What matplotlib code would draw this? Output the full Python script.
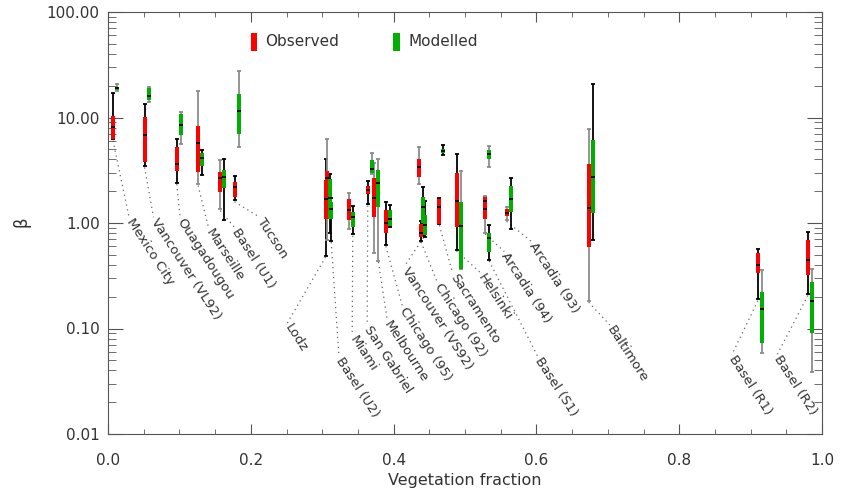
import matplotlib
matplotlib.use('Agg')
import matplotlib.pyplot as plt
from matplotlib.ticker import FixedLocator, FixedFormatter, MultipleLocator
from matplotlib.patches import Rectangle

# ---------------- data ----------------
sites = ["Mexico City", "Vancouver (VL92)", "Ouagadougou", "Marseille", "Basel (U1)",
         "Tucson", "Lodz", "Basel (U2)", "Miami", "San Gabriel", "Melbourne",
         "Chicago (95)", "Vancouver (VS92)", "Chicago (92)", "Sacramento", "Helsinki",
         "Basel (S1)", "Arcadia (94)", "Arcadia (93)", "Baltimore", "Basel (R1)", "Basel (R2)"]
veg_frac = [0.0098, 0.054, 0.099, 0.129, 0.160, 0.180, 0.3075, 0.3098, 0.340, 0.3666,
            0.376, 0.392, 0.439, 0.4414, 0.467, 0.491, 0.531, 0.531, 0.561, 0.676, 0.913, 0.983]

obs_lo  = [6.2, 3.47, 2.41, 2.33, 1.35, 1.64, 0.49, 0.69, 0.877, 1.51, 0.516, 0.62, 2.33, 0.68, 0.98, 0.56, 1.25, 0.81, 1.07, 0.183, 0.189, 0.212]
obs_q1  = [6.26, 3.81, 3.13, 3.06, 1.98, 1.78, 1.10, 1.60, 1.07, 1.88, 1.13, 0.81, 2.71, 0.73, 0.98, 0.92, 1.35, 1.08, 1.16, 0.588, 0.333, 0.321]
obs_med = [8.1, 6.78, 3.62, 5.69, 2.67, 2.21, 1.69, 2.69, 1.33, 2.05, 1.74, 0.99, 3.37, 0.80, 1.41, 1.62, 1.60, 1.35, 1.25, 1.40, 0.397, 0.446]
obs_q3  = [10.3, 10.2, 5.29, 8.3, 3.06, 2.46, 2.56, 3.13, 1.69, 2.24, 2.67, 1.33, 4.04, 0.98, 1.68, 2.96, 1.70, 1.75, 1.35, 3.60, 0.523, 0.69]
obs_hi  = [17.2, 13.4, 6.26, 17.9, 3.96, 2.77, 4.0, 6.25, 1.94, 2.50, 3.72, 1.59, 5.29, 1.05, 1.72, 4.51, 1.75, 1.80, 1.41, 7.71, 0.57, 0.816]

mod_lo  = [18.0, 14.1, 5.57, 2.83, 1.07, 5.25, 0.81, 0.68, 0.78, 2.92, 0.44, 0.92, 0.75, 0.73, 4.41, 0.37, 0.45, 3.42, 0.87, 0.685, 0.058, 0.0387]
mod_q1  = [18.3, 14.6, 6.82, 3.47, 2.16, 7.02, 1.10, 1.09, 0.92, 2.96, 1.43, 0.94, 0.99, 0.77, 4.58, 0.37, 0.53, 4.02, 1.28, 1.24, 0.0735, 0.0914]
mod_med = [18.9, 16.0, 8.44, 4.16, 2.75, 11.5, 1.74, 1.36, 1.14, 3.23, 2.41, 1.08, 1.41, 0.95, 4.80, 0.94, 0.716, 4.47, 1.68, 2.71, 0.152, 0.182]
mod_q3  = [19.6, 19.2, 10.8, 4.58, 3.18, 16.7, 2.60, 1.58, 1.26, 3.96, 3.18, 1.33, 1.75, 1.19, 5.03, 1.59, 0.80, 4.92, 2.26, 6.08, 0.223, 0.278]
mod_hi  = [20.8, 19.3, 11.3, 4.92, 4.02, 27.4, 2.9, 1.74, 1.44, 4.58, 4.02, 1.48, 2.21, 1.61, 5.49, 3.11, 0.96, 5.36, 2.65, 20.6, 0.358, 0.366]

# ---------------- styling / layout ----------------
grey_obs_whisker = {"Marseille", "Basel (U1)", "Basel (U2)", "Miami", "Melbourne",
                    "Vancouver (VS92)", "Arcadia (94)", "Arcadia (93)", "Baltimore"}
grey_mod_whisker = {"Mexico City", "Vancouver (VL92)", "Ouagadougou", "Tucson",
                    "San Gabriel", "Melbourne", "Helsinki", "Arcadia (94)",
                    "Basel (R1)", "Basel (R2)"}
label_pos = {
    "Mexico City": (0.0295, 1.09), "Vancouver (VL92)": (0.0637, 1.09),
    "Ouagadougou": (0.101, 1.09), "Marseille": (0.141, 0.86),
    "Basel (U1)": (0.178, 0.86), "Tucson": (0.2125, 1.09),
    "Lodz": (0.251, 0.108), "Basel (U2)": (0.3235, 0.052),
    "Miami": (0.342, 0.0835), "San Gabriel": (0.363, 0.104),
    "Melbourne": (0.391, 0.116), "Chicago (95)": (0.4125, 0.155),
    "Vancouver (VS92)": (0.415, 0.372), "Chicago (92)": (0.4616, 0.259),
    "Sacramento": (0.4827, 0.321), "Helsinki": (0.5225, 0.321),
    "Basel (S1)": (0.602, 0.052), "Arcadia (94)": (0.555, 0.516),
    "Arcadia (93)": (0.593, 0.642), "Baltimore": (0.7027, 0.104),
    "Basel (R1)": (0.8736, 0.054), "Basel (R2)": (0.937, 0.054),
}

RED = '#ff0000'
GREEN = '#00b000'
GREY = '#8c8c8c'
TXT = '#333333'
AX = '#555555'

W, H = 849, 491
fig = plt.figure(figsize=(W / 100, H / 100), dpi=100)
ax = fig.add_axes([108 / W, 1 - 434 / H, (822 - 108) / W, (434 - 12) / H])
ax.set_xlim(0, 1)
ax.set_yscale('log')
ax.set_ylim(0.01, 100)

w = 0.0056  # box width in x units

for i, name in enumerate(sites):
    x = veg_frac[i]
    # whiskers (behind boxes)
    for cx, lo, hi, grey in ((x - w / 2, obs_lo[i], obs_hi[i], name in grey_obs_whisker),
                             (x + w / 2, mod_lo[i], mod_hi[i], name in grey_mod_whisker)):
        c = GREY if grey else 'black'
        ax.vlines(cx, lo, hi, color=c, lw=1.3, zorder=2)
        ax.hlines([lo, hi], cx - w / 2, cx + w / 2, color=c, lw=1.3, zorder=2)

ax.bar([v - w for v in veg_frac], [b - a for a, b in zip(obs_q1, obs_q3)], width=w,
       bottom=obs_q1, align='edge', color=RED, edgecolor='none', zorder=3)
ax.bar(veg_frac, [b - a for a, b in zip(mod_q1, mod_q3)], width=w,
       bottom=mod_q1, align='edge', color=GREEN, edgecolor='none', zorder=3)
ax.hlines(obs_med, [v - w for v in veg_frac], veg_frac, color='black', lw=1.3, zorder=4)
ax.hlines(mod_med, veg_frac, [v + w for v in veg_frac], color='black', lw=1.3, zorder=4)

# leader lines and site labels
for i, name in enumerate(sites):
    x = veg_frac[i]
    lx, ly = label_pos[name]
    cands = [(obs_lo[i], x - w / 2), (mod_lo[i], x + w / 2)]
    cands = [c for c in cands if c[0] > ly * 1.5]
    ty, tx = min(cands)
    ax.plot([tx, lx], [ty * 0.97, ly * 1.04], ls=(0, (1, 3)), color='#666666', lw=0.9, zorder=1)
    ax.text(lx, ly, name, rotation=-57, rotation_mode='anchor', ha='left', va='center',
            fontsize=9.5, color=TXT)

# axes styling
for s in ax.spines.values():
    s.set_color(AX)
ax.xaxis.set_major_locator(MultipleLocator(0.2))
ax.xaxis.set_minor_locator(MultipleLocator(0.05))
ax.xaxis.set_major_formatter(FixedFormatter(['0.0', '0.2', '0.4', '0.6', '0.8', '1.0']))
ax.set_xticks([0, 0.2, 0.4, 0.6, 0.8, 1.0])
ax.set_xticklabels(['0.0', '0.2', '0.4', '0.6', '0.8', '1.0'])
ax.set_yticks([0.01, 0.1, 1, 10, 100])
ax.set_yticklabels(['0.01', '0.10', '1.00', '10.00', '100.00'])
ax.tick_params(which='both', direction='in', top=True, right=True, colors=AX,
               labelcolor=TXT, labelsize=11)
ax.tick_params(axis='x', which='major', length=7, pad=14)
ax.tick_params(axis='x', which='minor', length=3.6)
ax.tick_params(axis='y', which='major', length=11, pad=6)
ax.tick_params(axis='y', which='minor', length=5.8)

fig.text(465 / W, 1 - 481 / H, 'Vegetation fraction', ha='center', va='center',
         fontsize=11.5, color=TXT)
fig.text(22 / W, 1 - 222 / H, 'β', ha='center', va='center', rotation=90,
         fontsize=12, color=TXT)

# legend
fig.patches.append(Rectangle((251 / W, 1 - 51 / H), 6 / W, 18 / H, transform=fig.transFigure,
                             facecolor=RED, edgecolor='none'))
fig.text(265 / W, 1 - 42 / H, 'Observed', ha='left', va='center', fontsize=11, color=TXT)
fig.patches.append(Rectangle((393 / W, 1 - 51 / H), 7 / W, 18 / H, transform=fig.transFigure,
                             facecolor=GREEN, edgecolor='none'))
fig.text(408 / W, 1 - 42 / H, 'Modelled', ha='left', va='center', fontsize=11, color=TXT)

fig.savefig('out.png', dpi=100)
